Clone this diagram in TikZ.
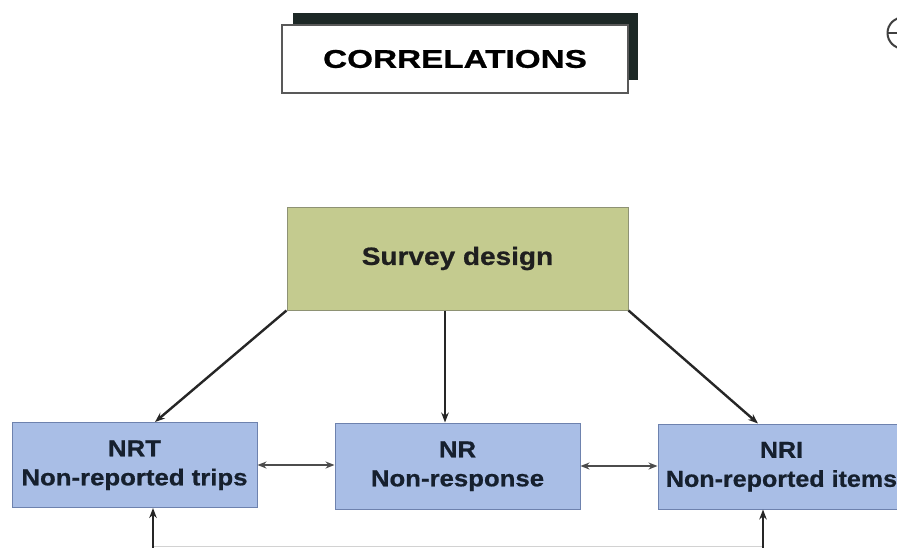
\documentclass[tikz,border=0pt]{standalone}
\usepackage{fontspec}
\setmainfont{Liberation Sans}
\newfontfamily\heavy[FakeBold=0.7]{Liberation Sans Bold}
\usetikzlibrary{arrows.meta}
\definecolor{olivefill}{HTML}{C4CB8F}
\definecolor{olivedraw}{HTML}{8E9274}
\definecolor{bluefill}{HTML}{A9BEE6}
\definecolor{bluedraw}{HTML}{6E82AE}
\definecolor{shadowc}{HTML}{1D2826}
\definecolor{navytext}{HTML}{16202E}
\newcommand{\boxlines}[3][1.12]{\scalebox{#1}[1]{\begin{tabular}{@{}c@{}}#2\\#3\end{tabular}}}
\tikzset{
  titlebox/.style={draw=gray!70!black, line width=1.4pt, fill=white, minimum width=346pt, minimum height=68pt, inner sep=0pt},
  shadowbox/.style={fill=shadowc, minimum width=345pt, minimum height=67pt, inner sep=0pt},
  designbox/.style={draw=olivedraw, line width=1pt, fill=olivefill, minimum width=341pt, minimum height=103pt, inner sep=0pt, text=black!88},
  nrbox/.style={draw=bluedraw, line width=1pt, fill=bluefill, minimum width=245pt, minimum height=85pt, inner sep=0pt, text=navytext, font=\fontsize{23}{29}\selectfont\heavy},
  arr/.style={draw=black!85, line width=2.4pt, -{Stealth[length=10pt,width=7.5pt]}},
  darr/.style={draw=black!70, line width=2pt, {Stealth[length=9pt,width=7pt]}-{Stealth[length=9pt,width=7pt]}},
  faint/.style={draw=gray!35, line width=1pt}
}
\begin{document}
\begin{tikzpicture}[x=1pt,y=-1pt]
\useasboundingbox (0,0) rectangle (897,547);
\clip (0,0) rectangle (897,547);
\fill[white] (0,0) rectangle (897,547);
% title
\node[shadowbox] (tshadow) at (465.5,46.5) {};
\node[titlebox] (title) at (455,59) {\fontsize{25.6}{30}\selectfont\heavy\scalebox{1.3}[1]{CORRELATIONS}};
% partial symbol at top right
\draw[black!75, line width=2pt] (903,33) circle (15.5pt);
\draw[black!75, line width=2pt] (887,33) -- (897,33);
% boxes
\node[designbox] (design) at (457.5,258.5) {\fontsize{25}{30}\selectfont\heavy\scalebox{1.12}[1]{Survey design}};
\node[nrbox] (NRT) at (134.5,465) {\boxlines{NRT}{Non-reported trips}};
\node[nrbox, minimum height=86pt] (NR) at (457.5,466) {\boxlines{NR}{Non-response}};
\node[nrbox, minimum width=250pt] (NRI) at (783,466.5) {\hspace*{-3pt}\boxlines[1.09]{NRI}{Non-reported items}};
% arrows from survey design
\draw[arr] (design.south west) -- ([xshift=20.5pt]NRT.north);
\draw[arr] ([xshift=-12.5pt]design.south) -- ([xshift=-12.5pt]NR.north);
\draw[arr] (design.south east) -- ([xshift=-25pt]NRI.north);
% double arrows
\draw[darr] (NRT.east) -- (NRT.east -| NR.west);
\draw[darr] (NR.east) -- (NR.east -| NRI.west);
% arrows from below
\coordinate (b1) at (153,551);
\coordinate (b2) at (763,551);
\draw[faint] (153,546) -- (763,546);
\draw[arr] (b1) -- (b1 |- NRT.south);
\draw[arr] (b2) -- (b2 |- NRI.south);
\end{tikzpicture}
\end{document}
